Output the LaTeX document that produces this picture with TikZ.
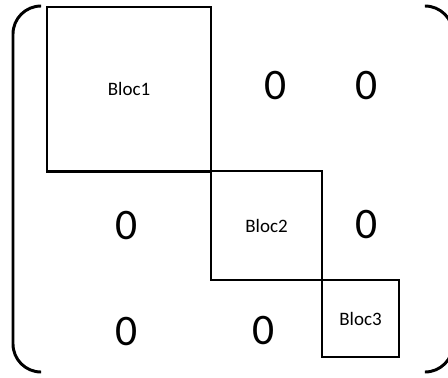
\documentclass[tikz,border=0pt]{standalone}
\usepackage{fontspec}
\setmainfont{Carlito}
\usetikzlibrary{positioning}

\newcommand\blocfont{\fontsize{13.5}{16}\selectfont}
\newcommand\zerofont{\fontsize{31}{36}\selectfont}

\tikzset{
  bloc/.style={draw, line width=1.4pt, inner sep=0pt, font=\blocfont},
  zero/.style={font=\zerofont, inner sep=0pt},
  paren/.style={line width=2.1pt, rounded corners=0.7cm},
}

\begin{document}
\begin{tikzpicture}[x=0.025cm,y=-0.025cm]
  \useasboundingbox (0,0) rectangle (448,377);

  % blocs on the diagonal
  \node[bloc, line width=2.1pt, minimum width=4.1cm, minimum height=4.1cm] (bloc1) at (129,89) {Bloc1};
  \node[bloc, minimum width=2.775cm, minimum height=2.725cm] (bloc2) at (266.5,225.5) {Bloc2};
  \node[bloc, minimum width=1.925cm, minimum height=1.925cm] (bloc3) at (360.5,318.5) {Bloc3};

  % zeros off the diagonal
  \foreach \name/\x/\y in {z12/276/85, z13/367/85, z21/127/225, z23/367/224, z31/127/331, z32/264/330} {
    \node[zero] (\name) at (\x,\y) {0};
  }

  % parentheses
  \begin{scope}
    \clip (0,0) rectangle (448,377);
    \draw[paren] (41,6) -- (13,6) -- (13,372) -- (41,372);
    \draw[paren] (425,6) -- (453,6) -- (453,372) -- (425,372);
  \end{scope}

\end{tikzpicture}
\end{document}
